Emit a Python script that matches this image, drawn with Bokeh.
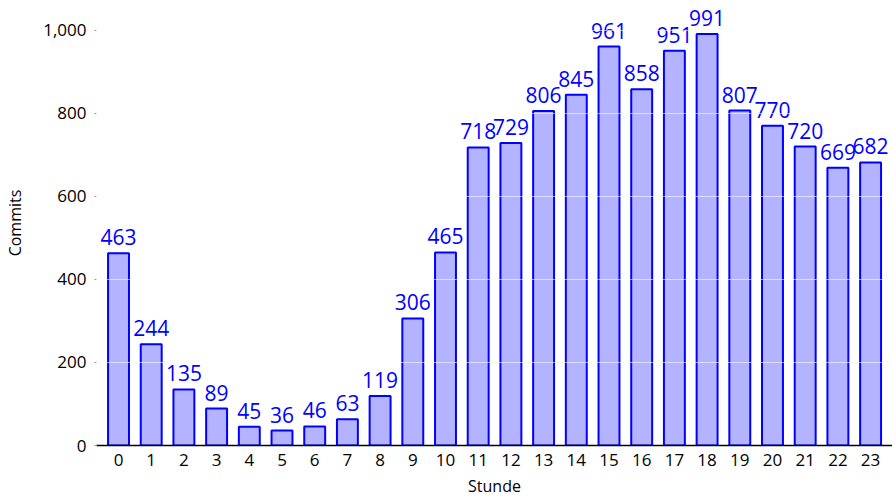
from bokeh.plotting import figure
from bokeh.models import ColumnDataSource, FixedTicker, NumeralTickFormatter, Range1d
from bokeh.core.properties import value
from bokeh.embed import file_html
from bokeh.resources import INLINE

hours = list(range(24))
commits = [463, 244, 135, 89, 45, 36, 46, 63, 119, 306, 465, 718, 729, 806, 845,
           961, 858, 951, 991, 807, 770, 720, 669, 682]
y_ticks = [0, 200, 400, 600, 800, 1000]
labels = [str(v) for v in commits]

src = ColumnDataSource(dict(x=hours, y=commits, lab=labels))

p = figure(width=892, height=499, output_backend="svg", toolbar_location=None,
           x_range=Range1d(-0.673, 23.67), y_range=Range1d(0, 1072),
           min_border_left=96, min_border_right=0, min_border_top=0, min_border_bottom=54)
p.outline_line_color = None
p.background_fill_color = "white"
p.border_fill_color = "white"

p.vbar(x="x", top="y", width=0.64, bottom=0, source=src,
       fill_color="#b3b3ff", line_color="#0000ff", line_width=2)
p.text(x="x", y="y", text="lab", source=src, text_align="center", text_baseline="bottom",
       y_offset=-8, text_color="#0000ff", text_font=value("Open Sans"), text_font_size="21px")

p.xgrid.grid_line_color = None
p.ygrid.ticker = FixedTicker(ticks=y_ticks)
p.ygrid.grid_line_color = "white"
p.ygrid.grid_line_alpha = 0.55
p.ygrid.grid_line_width = 1
p.ygrid.level = "overlay"

xa = p.xaxis[0]
xa.ticker = FixedTicker(ticks=hours)
xa.axis_line_color = "black"
xa.axis_line_width = 1.5
xa.major_tick_line_color = None
xa.minor_tick_line_color = None
xa.major_tick_out = 0
xa.major_label_standoff = 8
xa.major_label_text_font = "Open Sans"
xa.major_label_text_font_size = "17px"
xa.major_label_text_color = "black"
xa.axis_label = "Stunde"
xa.axis_label_standoff = 6
xa.axis_label_text_font = "Open Sans"
xa.axis_label_text_font_size = "16px"
xa.axis_label_text_font_style = "normal"
xa.axis_label_text_color = "black"

ya = p.yaxis[0]
ya.ticker = FixedTicker(ticks=y_ticks)
ya.formatter = NumeralTickFormatter(format="0,0")
ya.axis_line_color = None
ya.major_tick_line_color = "#999999"
ya.major_tick_out = 2
ya.major_tick_in = 0
ya.minor_tick_line_color = None
ya.major_label_standoff = 8
ya.major_label_text_font = "Open Sans"
ya.major_label_text_font_size = "17px"
ya.major_label_text_color = "black"
ya.axis_label = "Commits"
ya.axis_label_standoff = 14
ya.axis_label_text_font = "Open Sans"
ya.axis_label_text_font_size = "16px"
ya.axis_label_text_font_style = "normal"
ya.axis_label_text_color = "black"

open("out.html", "w").write(file_html(p, INLINE))
